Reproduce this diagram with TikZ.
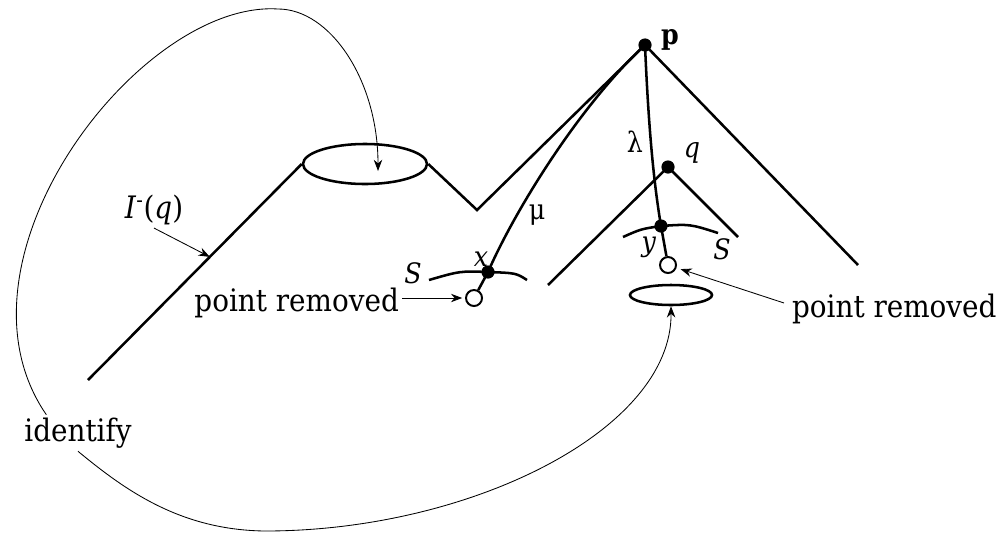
\documentclass[tikz,border=0pt]{standalone}
\usepackage{fontspec}
\setmainfont{DejaVu Serif}[FakeStretch=0.9]
\usetikzlibrary{positioning,arrows.meta,shapes.geometric,calc}

\begin{document}
\begin{tikzpicture}[
    x=0.025cm, y=-0.025cm,
    ridge/.style={line width=1.8pt, line join=miter},
    rim/.style={ellipse, draw, line width=1.8pt, inner sep=0pt},
    dot/.style={circle, fill, inner sep=0pt, minimum size=0.33cm},
    hole/.style={circle, draw, fill=white, line width=1.4pt, inner sep=0pt, minimum size=0.4cm},
    tag/.style={inner sep=1pt, font=\fontsize{20}{24}\selectfont},
    words/.style={inner sep=2pt, font=\fontsize{22}{26}\selectfont},
    pointer/.style={-{Stealth[length=8pt,width=6pt]}, line width=0.6pt},
    >=Stealth
]
\useasboundingbox (0,0) rectangle (1003,533);

% the two cut-out discs
\node[rim, minimum width=3.1cm, minimum height=1cm] (e1) at (365,164) {};
\node[rim, minimum width=2.05cm, minimum height=0.5cm] (e2) at (671,295) {};

% points
\node[dot] (p) at (645,45) {};
\node[dot] (q) at (668,167) {};
\node[dot] (x) at (488,272) {};
\node[dot] (y) at (661,226) {};
\node[hole] (hx) at (474,298) {};
\node[hole] (hy) at (668,265) {};

\coordinate (foot) at (88,380);
\coordinate (dip) at (477,210);
\coordinate (rfoot) at (858,265);
\coordinate (qleft) at (548,285);
\coordinate (qright) at (738,237);
\coordinate (sl1) at (429,280);
\coordinate (sl2) at (527,280);
\coordinate (sr1) at (623,237);
\coordinate (sr2) at (718,233);
\coordinate (top) at (278,9);
\coordinate (low) at (265,531);
\coordinate (drop) at (378,171);

% cones
\draw[ridge] (foot) -- coordinate[pos=0.57] (hit) (e1.west);
\draw[ridge] (e1.east) -- (dip) -- (p.center) -- (rfoot);
\draw[ridge] (qleft) -- (q.center) -- (qright);

% geodesics mu and lambda
\draw[ridge] (x.center) .. controls (515,210) and (580,105) .. (p.center);
\draw[ridge] (p.center) .. controls (649,140) and (655,190) .. (y.center) -- (hy);
\draw[ridge] (x.center) -- (hx);

% spheres S
\draw[ridge] (sl1) .. controls (460,271) .. (x.center) .. controls (516,273) .. (sl2);
\draw[ridge] (sr1) .. controls (641,229) .. (y.center) .. controls (690,224) .. (sr2);

% labels
\node[tag, font=\fontsize{20}{24}\selectfont\bfseries] (plab) at (670,40) {p};
\node[tag] (qlab) at (692,153) {\textit{q}};
\node[tag] (xlab) at (481,259) {\textit{x}};
\node[tag] (ylab) at (649,247) {\textit{y}};
\node[tag] (slab1) at (413,273) {\textit{S}};
\node[tag] (slab2) at (722,249) {\textit{S}};
\node[tag] (lam) at (635,142) {λ};
\node[tag] (mu) at (537,215) {μ};
\node[words] (iq) at (154,210) {\textit{I}\textsuperscript{-}(\textit{q})};
\node[words, anchor=east] (prl) at (402,303) {point removed};
\node[words, anchor=west] (prr) at (789,309) {point removed};
\node[words] (idf) at (78,433) {identify};

% arrows
\draw[pointer] (iq.south) -- (hit);
\draw[pointer, shorten >=2pt] (prl.east |- hx) -- (hx);
\draw[pointer, shorten >=3pt] ([shift={(-5,-6)}]prr.west) -- (hy);
\draw[pointer] (idf.150) .. controls (-60,260) and (140,0) .. (top)
    .. controls (330,9) and (378,80) .. (drop);
\draw[pointer] (idf.south) .. controls (125,490) and (180,530) .. (low)
    .. controls (470,531) and (672,430) .. (e2.south);
\end{tikzpicture}
\end{document}
